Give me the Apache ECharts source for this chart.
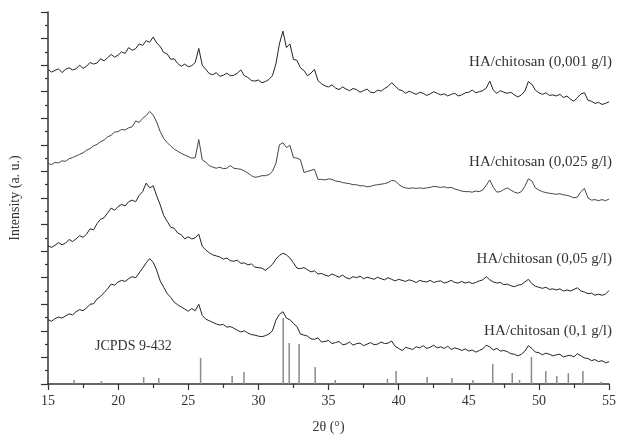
<!DOCTYPE html>
<html>
<head>
<meta charset="utf-8">
<script src="https://cdn.jsdelivr.net/npm/echarts@6/dist/echarts.min.js"></script>
<style>
html, body { margin: 0; padding: 0; background: #fff; }
#xrdChart { width: 619px; height: 439px; }
</style>
</head>
<body>
<div id="xrdChart"></div>
<script>
// 2theta grid: 15..55 deg, step 0.25
var twoTheta = [];
for (var i = 0; i <= 160; i++) {
    twoTheta.push(15 + i * 0.25);
}

// HA/chitosan (0,001 g/l)
var ha001 = [
    11.84, 11.74, 11.80, 11.86, 11.72, 11.84, 11.90, 11.82, 11.86, 12.00, 11.88, 11.96,
    12.10, 12.04, 12.08, 12.24, 12.16, 12.28, 12.40, 12.30, 12.38, 12.50, 12.44, 12.66,
    12.56, 12.62, 12.80, 12.74, 12.92, 12.86, 13.06, 12.84, 12.70, 12.48, 12.42, 12.22,
    12.24, 12.06, 11.96, 12.04, 11.94, 11.98, 12.10, 12.63, 12.00, 11.84, 11.68, 11.64,
    11.72, 11.58, 11.62, 11.70, 11.60, 11.62, 11.70, 11.82, 11.60, 11.54, 11.42, 11.40,
    11.44, 11.34, 11.38, 11.46, 11.60, 12.05, 12.80, 13.28, 12.66, 12.80, 12.22, 12.18,
    11.90, 11.80, 11.60, 11.70, 11.84, 11.42, 11.30, 11.22, 11.18, 11.26, 11.14, 11.08,
    11.18, 11.10, 11.04, 11.12, 11.08, 10.98, 11.04, 11.10, 10.98, 10.96, 11.06, 11.02,
    11.12, 11.20, 11.34, 11.22, 11.08, 11.04, 10.94, 11.02, 10.96, 10.90, 10.98, 10.94,
    10.86, 10.92, 11.00, 10.94, 10.88, 10.92, 10.84, 10.90, 10.94, 10.84, 10.88, 10.96,
    10.98, 11.06, 10.96, 11.00, 11.04, 11.14, 11.40, 11.06, 10.94, 11.04, 10.98, 10.94,
    10.98, 10.88, 10.80, 10.88, 11.02, 11.38, 11.28, 11.06, 10.96, 10.90, 10.96, 10.86,
    10.88, 10.84, 10.90, 10.78, 10.84, 10.72, 10.64, 10.78, 10.92, 10.96, 10.68, 10.64,
    10.56, 10.60, 10.52, 10.56, 10.62
];

// HA/chitosan (0,025 g/l)
var ha025 = [
    8.30, 8.26, 8.34, 8.32, 8.40, 8.38, 8.48, 8.52, 8.58, 8.64, 8.70, 8.80,
    8.86, 8.96, 9.02, 9.12, 9.18, 9.30, 9.36, 9.48, 9.50, 9.58, 9.56, 9.64,
    9.68, 9.90, 9.84, 10.00, 10.10, 10.26, 10.12, 9.86, 9.50, 9.24, 9.08, 8.96,
    8.84, 8.76, 8.68, 8.62, 8.56, 8.50, 8.52, 9.20, 8.44, 8.34, 8.22, 8.16,
    8.12, 8.16, 8.10, 8.12, 8.22, 8.12, 8.10, 8.08, 8.02, 7.94, 7.84, 7.78,
    7.80, 7.84, 7.84, 7.88, 8.00, 8.30, 9.00, 9.08, 8.90, 8.98, 8.52, 8.50,
    8.44, 7.96, 8.00, 8.04, 8.08, 7.70, 7.70, 7.68, 7.72, 7.70, 7.64, 7.62,
    7.58, 7.56, 7.54, 7.50, 7.50, 7.46, 7.46, 7.42, 7.44, 7.48, 7.50, 7.52,
    7.54, 7.58, 7.66, 7.64, 7.52, 7.42, 7.38, 7.36, 7.38, 7.36, 7.38, 7.36,
    7.38, 7.40, 7.44, 7.42, 7.40, 7.42, 7.38, 7.40, 7.34, 7.30, 7.26, 7.24,
    7.24, 7.22, 7.26, 7.24, 7.30, 7.48, 7.68, 7.40, 7.22, 7.24, 7.32, 7.38,
    7.30, 7.22, 7.18, 7.24, 7.44, 7.72, 7.64, 7.38, 7.30, 7.24, 7.20, 7.18,
    7.16, 7.14, 7.16, 7.12, 7.10, 7.06, 7.00, 7.04, 7.24, 7.36, 7.00, 6.92,
    6.94, 6.90, 6.94, 6.90, 6.96
];

// HA/chitosan (0,05 g/l)
var ha05 = [
    5.20, 5.14, 5.22, 5.32, 5.24, 5.30, 5.44, 5.36, 5.46, 5.58, 5.52, 5.64,
    5.84, 5.80, 6.04, 6.20, 6.26, 6.44, 6.62, 6.54, 6.68, 6.76, 6.70, 6.86,
    6.92, 6.86, 7.10, 7.24, 7.56, 7.38, 7.46, 7.08, 6.74, 6.34, 6.12, 5.90,
    5.86, 5.68, 5.62, 5.46, 5.54, 5.46, 5.50, 5.64, 5.18, 5.04, 4.94, 4.86,
    4.82, 4.78, 4.70, 4.74, 4.64, 4.62, 4.66, 4.54, 4.56, 4.48, 4.52, 4.40,
    4.38, 4.36, 4.28, 4.38, 4.50, 4.70, 4.84, 4.92, 4.86, 4.74, 4.56, 4.36,
    4.34, 4.38, 4.30, 4.22, 4.26, 4.14, 4.16, 4.10, 4.06, 4.14, 4.08, 4.02,
    4.10, 4.00, 3.96, 4.04, 4.00, 4.06, 3.96, 4.02, 3.98, 3.94, 4.02, 3.96,
    3.92, 4.00, 3.94, 3.88, 3.94, 3.90, 3.86, 3.92, 3.88, 3.82, 3.90, 3.86,
    3.84, 3.90, 3.82, 3.86, 3.88, 3.80, 3.84, 3.90, 3.82, 3.80, 3.86, 3.80,
    3.84, 3.78, 3.82, 3.88, 3.92, 4.04, 3.92, 3.84, 3.80, 3.82, 3.74, 3.76,
    3.70, 3.66, 3.72, 3.74, 3.84, 3.94, 3.78, 3.68, 3.64, 3.60, 3.64, 3.56,
    3.58, 3.54, 3.58, 3.50, 3.54, 3.50, 3.56, 3.62, 3.50, 3.46, 3.40, 3.42,
    3.34, 3.38, 3.34, 3.38, 3.52
];

// HA/chitosan (0,1 g/l)
var ha1 = [
    2.42, 2.36, 2.46, 2.52, 2.48, 2.56, 2.64, 2.60, 2.72, 2.80, 2.76, 2.86,
    3.00, 3.02, 3.20, 3.30, 3.44, 3.58, 3.76, 3.72, 3.84, 3.90, 3.86, 3.96,
    4.04, 4.00, 4.18, 4.36, 4.56, 4.72, 4.58, 4.28, 3.88, 3.64, 3.40, 3.26,
    3.08, 2.98, 2.90, 2.82, 2.74, 2.84, 2.76, 3.00, 2.58, 2.44, 2.38, 2.32,
    2.26, 2.22, 2.24, 2.14, 2.16, 2.10, 2.02, 1.96, 2.00, 1.92, 1.86, 1.84,
    1.80, 1.78, 1.82, 1.88, 2.00, 2.40, 2.62, 2.72, 2.48, 2.42, 2.28, 2.16,
    1.88, 1.84, 1.80, 1.70, 1.68, 1.74, 1.58, 1.60, 1.64, 1.52, 1.56, 1.60,
    1.48, 1.50, 1.58, 1.46, 1.52, 1.54, 1.44, 1.50, 1.56, 1.48, 1.50, 1.58,
    1.52, 1.54, 1.62, 1.42, 1.34, 1.26, 1.38, 1.34, 1.30, 1.40, 1.36, 1.44,
    1.34, 1.38, 1.46, 1.36, 1.40, 1.34, 1.42, 1.30, 1.36, 1.32, 1.26, 1.32,
    1.24, 1.28, 1.20, 1.26, 1.32, 1.46, 1.40, 1.28, 1.34, 1.24, 1.26, 1.22,
    1.14, 1.12, 1.06, 1.12, 1.24, 1.44, 1.34, 1.20, 1.18, 1.10, 1.16, 1.12,
    1.06, 1.10, 1.12, 1.02, 1.06, 1.08, 1.02, 1.14, 1.06, 0.98, 0.96, 0.88,
    0.92, 0.84, 0.88, 0.80, 0.84
];

// JCPDS 9-432 reference lines
var refPos = [16.86, 18.80, 21.82, 22.90, 25.88, 28.13, 28.97, 31.77, 32.20, 32.90,
    34.05, 35.48, 39.20, 39.82, 42.03, 43.80, 45.30, 46.71, 48.10, 48.62,
    49.47, 50.49, 51.28, 52.10, 53.14, 54.44];
var refHeight = [0.15, 0.11, 0.26, 0.23, 0.98, 0.30, 0.45, 2.48, 1.54, 1.51,
    0.64, 0.15, 0.19, 0.49, 0.26, 0.23, 0.15, 0.75, 0.41, 0.15,
    1.02, 0.49, 0.30, 0.41, 0.49, 0.08];

var seriesNames = ['HA/chitosan (0,001 g/l)', 'HA/chitosan (0,025 g/l)',
    'HA/chitosan (0,05 g/l)', 'HA/chitosan (0,1 g/l)'];

function toPairs(xs, ys) {
    var res = [];
    for (var i = 0; i < xs.length; i++) {
        res.push([xs[i], ys[i]]);
    }
    return res;
}

var serif = "'Liberation Serif', 'Times New Roman', serif";

function lineSeries(name, values, color) {
    return {
        name: name,
        type: 'line',
        data: toPairs(twoTheta, values),
        showSymbol: false,
        symbol: 'none',
        silent: true,
        lineStyle: { color: color, width: 1 }
    };
}

function labelText(text, y) {
    return {
        type: 'text',
        right: 7,
        top: y - 8,
        style: { text: text, font: '15px ' + serif, fill: '#333' }
    };
}

var xrdChart = echarts.init(document.getElementById('xrdChart'));
xrdChart.setOption({
    animation: false,
    grid: { left: 48, right: 6, top: 12, bottom: 55 },
    xAxis: {
        type: 'value',
        min: 15,
        max: 55,
        interval: 5,
        name: '2θ (°)',
        nameLocation: 'middle',
        nameGap: 36,
        nameTextStyle: { fontFamily: serif, fontSize: 14, color: '#333' },
        axisLine: { lineStyle: { color: '#333', width: 1.5 } },
        axisTick: { inside: false, length: 6, lineStyle: { color: '#333', width: 1.2 } },
        minorTick: { show: true, splitNumber: 2, length: 4, lineStyle: { color: '#333', width: 1.2 } },
        axisLabel: { fontFamily: serif, fontSize: 14, color: '#333', margin: 10 },
        splitLine: { show: false }
    },
    yAxis: {
        type: 'value',
        min: 0,
        max: 14,
        interval: 1,
        name: 'Intensity (a. u.)',
        nameLocation: 'middle',
        nameGap: 26,
        nameTextStyle: { fontFamily: serif, fontSize: 14, color: '#333' },
        axisLine: { show: true, lineStyle: { color: '#333', width: 1.5 } },
        axisTick: { show: true, inside: false, length: 7, lineStyle: { color: '#333', width: 1.2 } },
        minorTick: { show: true, splitNumber: 2, length: 3, lineStyle: { color: '#333', width: 1.2 } },
        axisLabel: { show: false },
        splitLine: { show: false }
    },
    series: [
        lineSeries(seriesNames[0], ha001, '#222'),
        lineSeries(seriesNames[1], ha025, '#444'),
        lineSeries(seriesNames[2], ha05, '#222'),
        lineSeries(seriesNames[3], ha1, '#222'),
        {
            name: 'JCPDS 9-432',
            type: 'bar',
            barWidth: 1.5,
            silent: true,
            itemStyle: { color: '#8a8a8a' },
            data: toPairs(refPos, refHeight)
        }
    ],
    graphic: [
        labelText(seriesNames[0], 63),
        labelText(seriesNames[1], 163),
        labelText(seriesNames[2], 260),
        labelText(seriesNames[3], 332),
        {
            type: 'text',
            left: 95,
            top: 339,
            style: { text: 'JCPDS 9-432', font: '14px ' + serif, fill: '#333' }
        }
    ]
});
</script>
</body>
</html>
